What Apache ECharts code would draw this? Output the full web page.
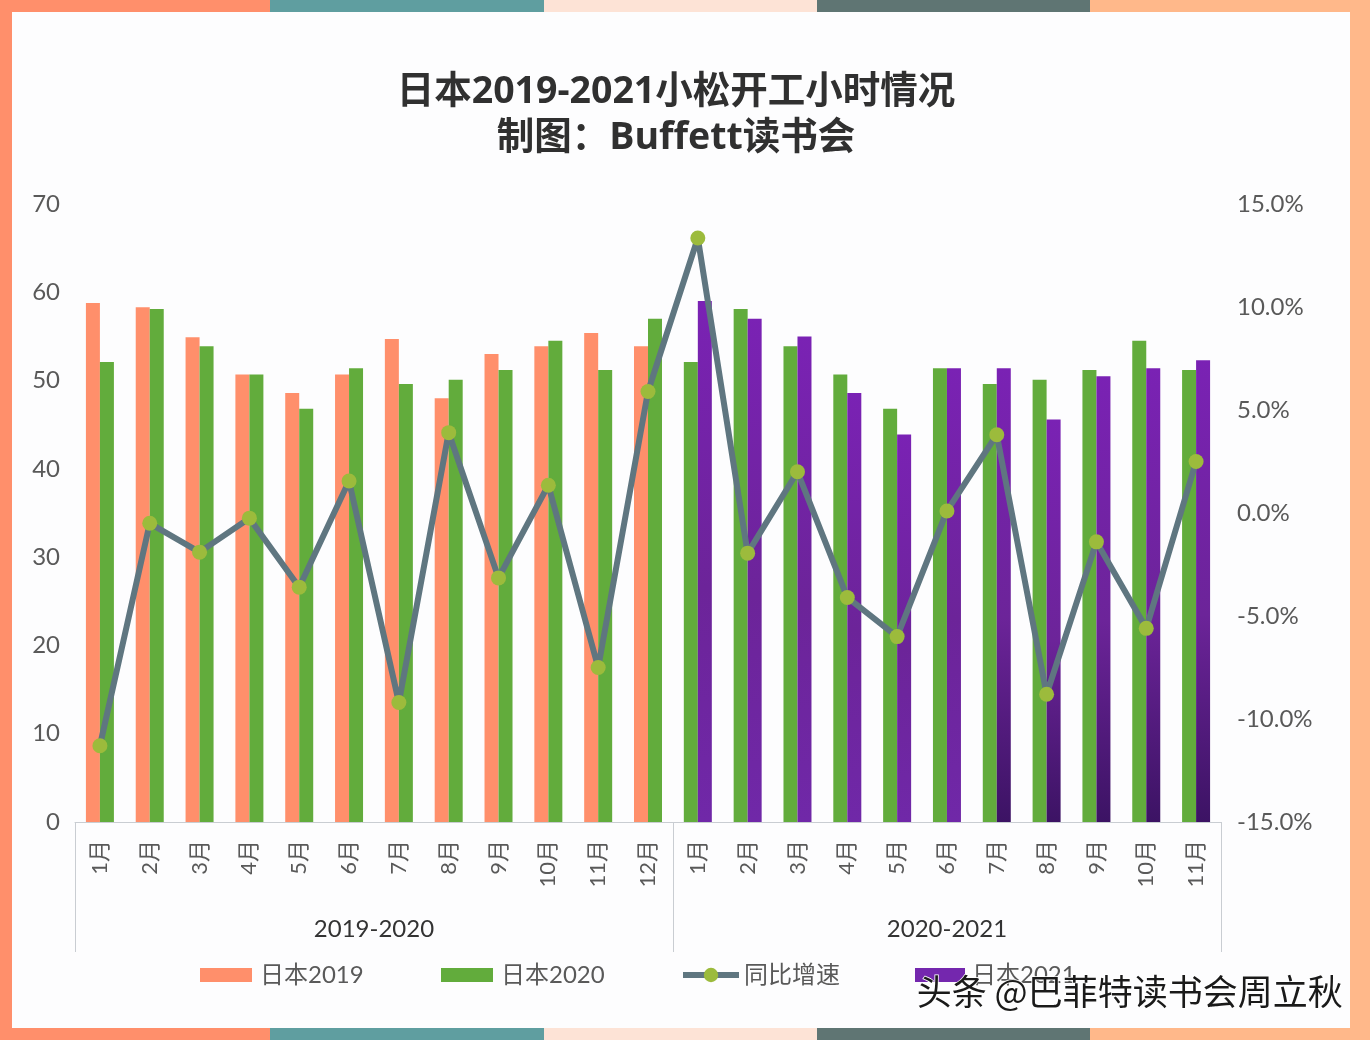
<!DOCTYPE html>
<html><head><meta charset="utf-8">
<script src="https://cdn.jsdelivr.net/npm/echarts@6/dist/echarts.min.js"></script>
<style>
html,body{margin:0;padding:0;width:1370px;height:1040px;overflow:hidden;background:#FDFDFD}
#frame{position:absolute;left:0;top:0;width:1370px;height:1040px;
background:linear-gradient(90deg,#FF8F6B 0 270px,#5F9EA0 270px 544px,#FDE3D6 544px 817px,#5F7573 817px 1090px,#FFB88A 1090px 1370px)}
#panel{position:absolute;left:12px;top:12px;width:1338px;height:1016px;background:#FDFDFE}
#left{position:absolute;left:0;top:0;width:12px;height:1040px;background:#FF8F6B}
#right{position:absolute;left:1350px;top:0;width:20px;height:1040px;background:#FFB88A}
#chart{position:absolute;left:0;top:0;width:1370px;height:1040px}
</style></head>
<body>
<div id="frame"></div><div id="left"></div><div id="right"></div><div id="panel"></div>
<div id="chart"></div>
<script>
const months = ['1月','2月','3月','4月','5月','6月','7月','8月','9月','10月','11月','12月',
                '1月','2月','3月','4月','5月','6月','7月','8月','9月','10月','11月'];
const groupNames = ['2019-2020','2020-2021'];
const groupSizes = [12,11];
const japan2019 = [58.8,58.3,54.9,50.7,48.6,50.7,54.7,48.0,53.0,53.9,55.4,53.9];
const japan2020 = [52.1,58.1,53.9,50.7,46.8,51.4,49.6,50.1,51.2,54.5,51.2,57.0,
                   52.1,58.1,53.9,50.7,46.8,51.4,49.6,50.1,51.2,54.5,51.2];
const japan2021 = [59.0,57.0,55.0,48.6,43.9,51.4,51.4,45.6,50.5,51.4,52.3];
const growth = [-11.3,-0.5,-1.9,-0.25,-3.6,1.55,-9.2,3.9,-3.15,1.35,-7.5,5.9,
                13.35,-1.95,2.0,-4.1,-6.0,0.1,3.8,-8.8,-1.4,-5.6,2.5];
const purpleBottoms = ['#7028A8','#7028A8','#7028A8','#7028A8','#7028A8','#7028A8',
                       '#3C1364','#3C1364','#3C1364','#3C1364','#3C1364'];

const FONT = 'Lato, "Noto Sans CJK SC", sans-serif';
const TEXT = '#595959';
const n1 = groupSizes[0];
const blanks = k => Array(k).fill(null);

const data2021 = japan2021.map((v, i) => ({
  value: v,
  itemStyle: { color: new echarts.graphic.LinearGradient(0,0,0,1,[
    {offset:0,color:'#7A22B4'},{offset:0.55,color:'#6C2499'},{offset:1,color:purpleBottoms[i]}
  ])}
}));

const barBase = { type:'bar', barWidth:14, barGap:0, yAxisIndex:0, xAxisIndex:0 };
const legendText = pad => ({fontFamily:FONT,fontSize:24,color:TEXT,padding:[0,0,0,pad]});
const legendBase = { orient:'horizontal', padding:0, top:963, itemWidth:52, itemHeight:14 };

const chart = echarts.init(document.getElementById('chart'), null, {width:1370,height:1040});
chart.setOption({
  backgroundColor:'transparent',
  animation:false,
  title:{
    text:'日本2019-2021小松开工小时情况\n制图：Buffett读书会',
    left:671, top:64, textAlign:'center',
    textStyle:{fontFamily:'"Open Sans", "Noto Sans CJK SC", sans-serif',fontSize:37.5,fontWeight:'bold',color:'#303030',lineHeight:46}
  },
  legend:[
    Object.assign({},legendBase,{left:200,icon:'rect',textStyle:legendText(3),data:['日本2019']}),
    Object.assign({},legendBase,{left:441,icon:'rect',textStyle:legendText(3),data:['日本2020']}),
    Object.assign({},legendBase,{left:680,itemWidth:56,itemHeight:18,textStyle:legendText(0),
      lineStyle:{width:6},data:['同比增速']}),
    Object.assign({},legendBase,{left:915,itemWidth:50,icon:'rect',textStyle:legendText(2),data:['日本2021']})
  ],
  grid:{left:75,right:149,top:204,bottom:218,containLabel:false},
  xAxis:[
    { type:'category', data:months, position:'bottom',
      axisLine:{lineStyle:{color:'#C9CDD2',width:1}}, axisTick:{show:false},
      axisLabel:{interval:0,rotate:90,margin:18,fontFamily:FONT,fontSize:22,color:TEXT} },
    { type:'value', position:'bottom', min:0, max:months.length,
      splitLine:{show:false}, axisLine:{show:false,onZero:false},
      axisTick:{show:true,length:130,lineStyle:{color:'#C9CDD2',width:1},
        customValues:[0,groupSizes[0],groupSizes[0]+groupSizes[1]]},
      axisLabel:{margin:95,fontFamily:FONT,fontSize:24,color:'#333333',
        customValues:[groupSizes[0]/2,groupSizes[0]+groupSizes[1]/2],
        formatter:v=>v<groupSizes[0]?groupNames[0]:groupNames[1]} }
  ],
  yAxis:[
    { type:'value', min:0, max:70, interval:10, position:'left',
      splitLine:{show:false}, axisLine:{show:false}, axisTick:{show:false},
      axisLabel:{margin:15,fontFamily:FONT,fontSize:24,color:TEXT} },
    { type:'value', min:-15, max:15, interval:5, position:'right',
      splitLine:{show:false}, axisLine:{show:false}, axisTick:{show:false},
      axisLabel:{margin:16,fontFamily:FONT,fontSize:24,color:TEXT,formatter:v=>v.toFixed(1)+'%'} }
  ],
  series:[
    Object.assign({},barBase,{name:'日本2019',stack:'leftSlot',data:japan2019,itemStyle:{color:'#FF8F6B'}}),
    Object.assign({},barBase,{name:'日本2020',stack:'rightSlot',data:japan2020.slice(0,n1),itemStyle:{color:'#62AC3C'}}),
    Object.assign({},barBase,{name:'日本2020',stack:'leftSlot',data:blanks(n1).concat(japan2020.slice(n1)),itemStyle:{color:'#62AC3C'}}),
    Object.assign({},barBase,{name:'日本2021',stack:'rightSlot',data:blanks(n1).concat(data2021),itemStyle:{color:'#7427AE'}}),
    { name:'同比增速', type:'line', yAxisIndex:1, xAxisIndex:0, data:growth, z:5,
      symbol:'circle', symbolSize:15, showSymbol:true,
      lineStyle:{color:'#5F7680',width:6}, itemStyle:{color:'#9CBB3C'} }
  ],
  graphic:[{
    type:'text', left:916, top:973, z:100,
    style:{text:'头条 @巴菲特读书会周立秋',fontFamily:'"Noto Sans CJK SC", sans-serif',fontSize:35,
      fill:'#1A1A1A',stroke:'#FFFFFF',lineWidth:1.5}
  }]
});
</script>
</body></html>
